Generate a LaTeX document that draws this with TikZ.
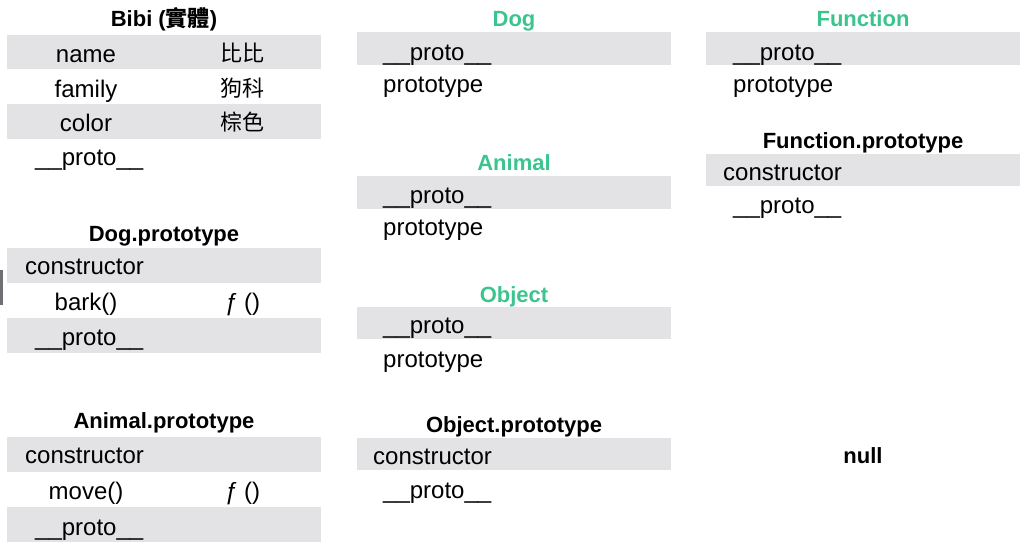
\documentclass[tikz,border=0pt]{standalone}
\usepackage{fontspec}
\setmainfont{Liberation Sans}
\newfontfamily\cjk{Noto Sans CJK TC}
\definecolor{rowgray}{HTML}{E3E3E6}
\definecolor{titlegreen}{HTML}{3CC48E}
\definecolor{bargray}{HTML}{707074}
\begin{document}
\begin{tikzpicture}[x=1pt,y=-1pt,
  grayrow/.style={fill=rowgray, draw=none, inner sep=0pt, minimum width=314pt, minimum height=#1, anchor=north west},
  body/.style={font=\fontsize{24}{24}\selectfont, inner sep=0pt, anchor=base west},
  bodyc/.style={body, anchor=base},
  cjkval/.style={font=\cjk\fontsize{22}{22}\selectfont, inner sep=0pt, anchor=base},
  title/.style={font=\bfseries\fontsize{22}{22}\selectfont, inner sep=0pt, anchor=base},
  gtitle/.style={title, text=titlegreen}]
\useasboundingbox (0,0) rectangle (1024,546);

% ---------- left column ----------
% Bibi
\node[title] (bibi-t) at (164,27) {Bibi ({\cjk 實體})};
\node[grayrow=34pt] (bibi-r1) at (7,35) {};
\node[grayrow=35pt] (bibi-r3) at (7,104) {};
\node[bodyc] (bibi-name) at (86,62) {name};
\node[cjkval] (bibi-namev) at (242,61) {比比};
\node[bodyc] (bibi-family) at (86,97) {family};
\node[cjkval] (bibi-familyv) at (242,96) {狗科};
\node[bodyc] (bibi-color) at (86,131) {color};
\node[cjkval] (bibi-colorv) at (242,130) {棕色};
\node[body] (bibi-proto) at (35,165) {\_\_proto\_\_};

% Dog.prototype
\node[title] (dogp-t) at (164,241) {Dog.prototype};
\node[grayrow=35pt] (dogp-r1) at (7,248) {};
\node[grayrow=35pt] (dogp-r3) at (7,318) {};
\node[body] (dogp-ctor) at (25,274) {constructor};
\node[bodyc] (dogp-bark) at (86,310) {bark()};
\node[bodyc] (dogp-barkv) at (242,310) {{\itshape ƒ} ()};
\node[body] (dogp-proto) at (35,345) {\_\_proto\_\_};
\node[fill=bargray, inner sep=0pt, minimum width=3pt, minimum height=35pt, anchor=north west] (leftbar) at (0,270) {};

% Animal.prototype
\node[title] (animp-t) at (164,428) {Animal.prototype};
\node[grayrow=35pt] (animp-r1) at (7,437) {};
\node[grayrow=35pt] (animp-r3) at (7,507) {};
\node[body] (animp-ctor) at (25,463) {constructor};
\node[bodyc] (animp-move) at (86,499) {move()};
\node[bodyc] (animp-movev) at (242,499) {{\itshape ƒ} ()};
\node[body] (animp-proto) at (35,535) {\_\_proto\_\_};

% ---------- middle column ----------
\node[gtitle] (dog-t) at (514,27) {Dog};
\node[grayrow=33pt] (dog-r1) at (357,32) {};
\node[body] (dog-proto) at (383,60) {\_\_proto\_\_};
\node[body] (dog-prototype) at (383,92) {prototype};

\node[gtitle] (anim-t) at (514,170) {Animal};
\node[grayrow=33pt] (anim-r1) at (357,176) {};
\node[body] (anim-proto) at (383,203) {\_\_proto\_\_};
\node[body] (anim-prototype) at (383,235) {prototype};

\node[gtitle] (obj-t) at (514,302) {Object};
\node[grayrow=32pt] (obj-r1) at (357,307) {};
\node[body] (obj-proto) at (383,333) {\_\_proto\_\_};
\node[body] (obj-prototype) at (383,367) {prototype};

\node[title] (objp-t) at (514,432) {Object.prototype};
\node[grayrow=32pt] (objp-r1) at (357,438) {};
\node[body] (objp-ctor) at (373,464) {constructor};
\node[body] (objp-proto) at (383,498) {\_\_proto\_\_};

% ---------- right column ----------
\node[gtitle] (fn-t) at (863,27) {Function};
\node[grayrow=33pt] (fn-r1) at (706,32) {};
\node[body] (fn-proto) at (733,60) {\_\_proto\_\_};
\node[body] (fn-prototype) at (733,92) {prototype};

\node[title] (fnp-t) at (863,148) {Function.prototype};
\node[grayrow=32pt] (fnp-r1) at (706,154) {};
\node[body] (fnp-ctor) at (723,180) {constructor};
\node[body] (fnp-proto) at (733,213) {\_\_proto\_\_};

\node[title] (null) at (863,463) {null};
\end{tikzpicture}
\end{document}
